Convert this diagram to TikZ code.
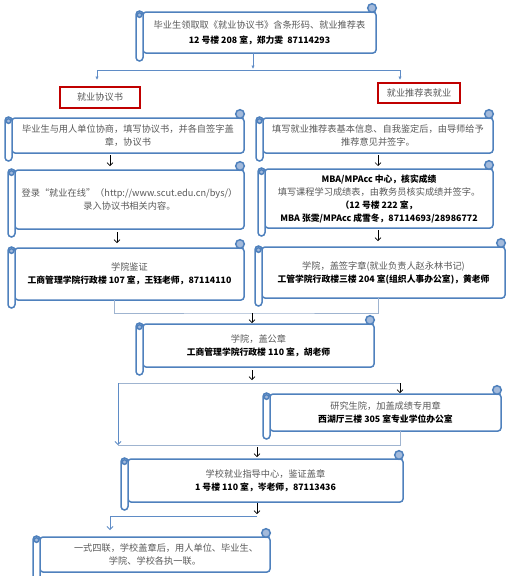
\documentclass[tikz,border=0pt]{standalone}
\usepackage{fontspec}
\setmainfont{Noto Sans CJK SC}
\usetikzlibrary{arrows.meta}

\definecolor{cor_azul}{HTML}{4F81BD}
\definecolor{cor_enrolo}{HTML}{A3BADB}
\definecolor{cor_fio}{HTML}{5F8CC6}
\definecolor{cor_junta}{HTML}{9FB4D0}
\definecolor{cor_vermelho}{HTML}{C00000}
\definecolor{cor_texto}{HTML}{595959}

\newcommand{\destaque}[1]{{\bfseries\color{black}\fontsize{8.8}{13}\selectfont #1}}

% nome, x1, y1, x2, y2, texto
\newcommand{\rolo}[6]{%
  \draw[linha, fill=white, rounded corners=3] (#2,#3) -- (#4,#3) -- (#4,#5) -- (#2,#5) -- cycle;
  \draw[linha, fill=white, rounded corners=3.5] ({#2-7},{#3-1}) rectangle (#2,{#5+8});
  \draw[linha, fill=cor_enrolo] ({#2-3.5},{#3+3}) circle (2.3);
  \draw[linha, fill=cor_enrolo] ({#4-4},{#3-4}) circle (4.3);
  \node[corpo, minimum width={#4-#2}, minimum height={#5-#3}] (#1) at ({(#2+#4)/2},{(#3+#5)/2}) {#6};
}

\begin{document}
\begin{tikzpicture}[x=1pt, y=-1pt]
        \tikzset{
            linha/.style={draw=cor_azul, line width=1.5pt},
            corpo/.style={
                inner sep=0pt,
                outer sep=0pt,
                align=center,
                text=cor_texto,
                font=\fontsize{9.2}{13}\selectfont
            },
            rotulo/.style={
                draw=cor_vermelho,
                line width=1.4pt,
                fill=white,
                text=cor_texto,
                inner sep=0pt,
                font=\fontsize{9.2}{13}\selectfont
            },
            seta/.style={black, line width=0.6pt, -{Straight Barb[length=3pt,width=6pt]}},
            fio/.style={cor_fio, line width=0.8pt},
            junta/.style={cor_junta, line width=0.8pt},
            ponta/.style={-{Latex[length=3.5pt,width=3.5pt]}},
            aberta/.style={-{Straight Barb[length=3pt,width=6pt]}}
        }
        \useasboundingbox (0,0) rectangle (512,576);

        \rolo{inicio}{143}{12}{376}{53}{毕业生领取取《就业协议书》含条形码、就业推荐表\\[2pt]\destaque{12 号楼 208 室，郑力雯\ \ 87114293}}

        % RAMOS
        \coordinate (bifurca) at (253,70);
        \coordinate (ramoE) at (97,80);
        \coordinate (ramoD) at (400,80);
        \draw[fio, ponta, shorten >=1pt] (inicio.south -| bifurca) -- (bifurca);
        \draw[fio, ponta] (bifurca) -| (ramoE);
        \draw[fio, ponta] (bifurca) -| (ramoD);

        \node[rotulo, minimum width=80pt, minimum height=21pt] (protocolo) at (100,97.5) {就业协议书};
        \node[rotulo, minimum width=82pt, minimum height=20pt] (recomenda) at (419,93) {就业推荐表就业};

        \rolo{esq1}{12}{118}{244}{153}{毕业生与用人单位协商，填写协议书，并各自签字盖\\章，协议书}
        \rolo{dir1}{263}{118}{493}{153}{填写就业推荐表基本信息、自我鉴定后，由导师给予\\推荐意见并签字。}
        \rolo{esq2}{15}{170}{244}{229}{登录“就业在线”（http://www.scut.edu.cn/bys/）\\录入协议书相关内容。}
        \rolo{dir2}{265}{169}{493}{228}{\destaque{MBA/MPAcc 中心，核实成绩}\\填写课程学习成绩表，由教务员核实成绩并签字。\\\destaque{（12 号楼 222 室，}\\\destaque{MBA 张雯/MPAcc 成雪冬，87114693/28986772}}
        \rolo{esq3}{15}{248}{244}{300}{学院鉴证\\\destaque{工商管理学院行政楼 107 室，王钰老师，87114110}}
        \rolo{dir3}{262}{247}{505}{298}{学院，盖签字章(就业负责人赵永林书记)\\\destaque{工管学院行政楼三楼 204 室(组织人事办公室)，黄老师}}

        \draw[seta, shorten <=2pt, shorten >=4pt] ([xshift=-18pt]esq1.south) -- ([xshift=-18pt]esq1.south |- esq2.north);
        \draw[seta, shorten <=2pt, shorten >=3pt] (dir1.south) -- (dir1.south |- dir2.north);
        \draw[seta, shorten <=3pt, shorten >=5pt] ([xshift=-12.5pt]esq2.south) -- ([xshift=-12.5pt]esq2.south |- esq3.north);
        \draw[seta, shorten <=2pt, shorten >=6pt] ([xshift=-1pt]dir2.south) -- ([xshift=-1pt]dir2.south |- dir3.north);

        % JUNCAO 1
        \coordinate (junta1) at (252,313);
        \draw[junta] ([xshift=-15.5pt]esq3.south) |- (junta1) -| ([xshift=-5.5pt]dir3.south);

        \rolo{colegio}{143}{324}{374}{367}{学院，盖公章\\\destaque{工商管理学院行政楼 110 室，胡老师}}
        \draw[seta, shorten >=1pt] (junta1) -- (junta1 |- colegio.north);

        % DESVIO
        \coordinate (ramo2) at (252,383);
        \coordinate (desvioE) at (118,383);
        \coordinate (desvioD) at (400,383);
        \coordinate (retornoE) at (118,445);
        \coordinate (junta2) at (257,445);
        \draw[seta, shorten <=3pt, shorten >=3pt] ([xshift=-6.5pt]colegio.south) -- (ramo2);
        \draw[junta] (desvioE) -- (desvioD);
        \draw[junta, cor_fio, aberta] (desvioE) -- (retornoE);

        \rolo{posgrad}{270}{394}{501}{431}{研究生院，加盖成绩专用章\\\destaque{西湖厅三楼 305 室专业学位办公室}}
        \draw[seta, shorten >=1pt] (desvioD) -- (desvioD |- posgrad.north);
        \draw[junta] ([xshift=14.5pt]posgrad.south) |- (retornoE);

        \rolo{escola}{128}{459}{403}{502}{学校就业指导中心，鉴证盖章\\\destaque{1 号楼 110 室，岑老师，87113436}}
        \draw[seta, shorten <=2pt, shorten >=2pt] (junta2) -- (junta2 |- escola.north);

        \coordinate (ramo3) at (257,516);
        \coordinate (chegada) at (110,530);
        \draw[seta, shorten <=1pt, shorten >=2pt] ([xshift=-8.5pt]escola.south) -- (ramo3);
        \draw[fio, aberta] (ramo3) -| (chegada);

        \rolo{final}{40}{537}{270}{572}{\hspace*{22pt}一式四联，学校盖章后，用人单位、毕业生、\\学院、学校各执一联。}

\end{tikzpicture}
\end{document}
